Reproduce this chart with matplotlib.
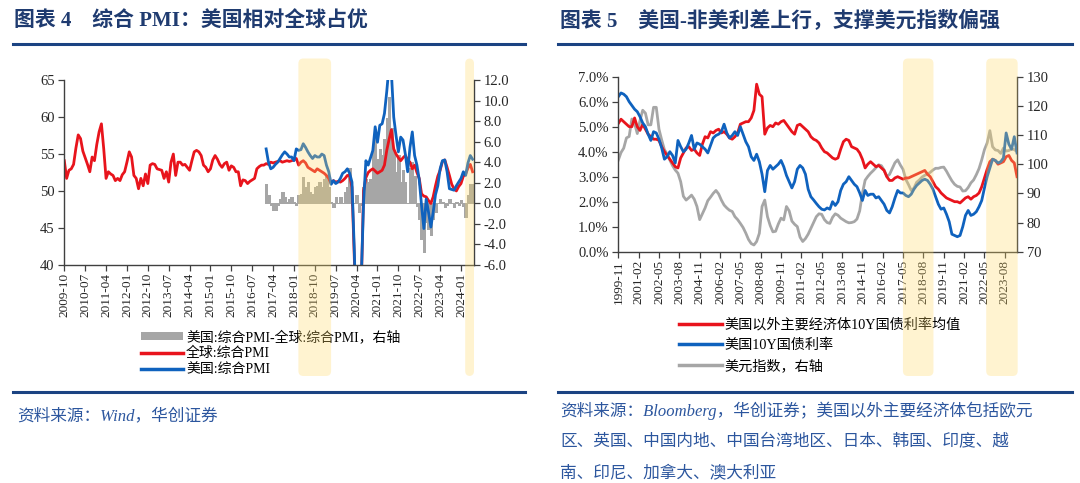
import numpy as np
import matplotlib
matplotlib.use("Agg")
import matplotlib.pyplot as plt
from matplotlib.patches import FancyBboxPatch, Patch
from matplotlib.lines import Line2D
from matplotlib.ticker import FuncFormatter

plt.rcParams['font.family'] = ['Liberation Serif', 'Noto Sans CJK SC', 'DejaVu Sans']
plt.rcParams['axes.unicode_minus'] = False

# ---------------- data: left chart (monthly, from 2009-10) ----------------
pmi_tick_labels = ["2009-10", "2010-07", "2011-04", "2012-01", "2012-10", "2013-07",
                   "2014-04", "2015-01", "2015-10", "2016-07", "2017-04", "2018-01",
                   "2018-10", "2019-07", "2020-04", "2021-01", "2021-10", "2022-07",
                   "2023-04", "2024-01"]
global_pmi = [54.1, 51.7, 52.8, 53.0, 53.6, 55.8, 57.6, 57.1, 55.4, 54.5,
              53.6, 52.6, 54.6, 54.1, 56.3, 58.0, 59.1, 55.7, 51.7, 52.6,
              52.3, 52.1, 51.4, 51.7, 51.4, 52.2, 52.6, 53.9, 55.3, 54.6,
              52.1, 51.7, 50.3, 51.7, 50.7, 52.3, 51.0, 53.5, 53.7, 53.6,
              53.0, 52.9, 52.8, 51.7, 52.6, 51.2, 53.9, 55.0, 52.1, 53.9,
              53.9, 53.5, 53.6, 53.2, 52.8, 54.1, 55.3, 55.5, 55.3, 54.8,
              53.5, 53.2, 52.6, 53.0, 54.2, 54.8, 54.3, 53.6, 53.2, 53.7,
              53.9, 52.8, 53.4, 53.2, 52.6, 52.6, 50.7, 51.5, 51.4, 51.0,
              51.3, 51.5, 51.7, 53.0, 53.3, 53.5, 53.5, 53.7, 53.6, 53.9,
              53.8, 53.9, 54.0, 54.1, 53.9, 54.0, 54.1, 54.0, 54.1, 54.2,
              54.4, 53.5, 53.9, 54.1, 53.8, 53.2, 53.0, 52.8, 52.6, 53.0,
              52.8, 52.6, 52.4, 52.1, 51.7, 51.0, 51.4, 51.2, 51.3, 51.2,
              51.4, 51.7, 52.1, 52.1, 50.5, 41.0, 30.0, 28.0, 37.0, 50.0,
              51.8, 52.5, 52.8, 53.0, 52.7, 52.4, 52.6, 52.8, 53.5, 55.5,
              57.0, 58.3, 55.7, 55.0, 54.5, 54.1, 54.5, 54.8, 54.2, 53.9,
              53.0, 53.5, 52.5, 51.7, 49.6, 49.3, 49.2, 48.7, 48.3, 49.2,
              50.7, 52.0, 52.8, 54.0, 54.2, 53.2, 52.1, 50.9, 50.3, 50.0,
              50.6, 51.0, 52.0, 52.3, 53.1, 53.6, 52.6]
us_start = 87  # first month index of the US series (2017-01)
us_pmi = [55.7, 53.9, 53.0, 53.2, 53.6, 53.9, 54.4, 54.9, 55.3, 55.0,
          54.6, 54.6, 54.1, 55.7, 55.5, 55.6, 56.4, 55.9, 55.3, 54.8,
          54.4, 54.8, 54.6, 54.6, 55.0, 54.8, 53.5, 52.6, 50.9, 51.4,
          51.0, 51.2, 51.7, 52.4, 52.6, 53.0, 52.4, 51.2, 42.0, 30.0,
          27.0, 38.0, 48.5, 54.1, 53.5, 54.5, 55.5, 58.7, 56.6, 58.9,
          59.1, 60.5, 63.5, 67.0, 66.0, 60.0, 57.5, 55.3, 57.3, 56.9,
          55.0, 52.6, 55.9, 58.0, 54.8, 53.5, 51.5, 48.0, 44.9, 48.9,
          47.1, 45.1, 47.1, 49.5, 50.7, 53.0, 54.1, 54.2, 52.6, 50.3,
          50.2, 50.1, 50.7, 51.2, 51.7, 52.6, 52.1, 53.8, 54.8, 54.3]
pmi_diff = [1.9, 0.8, -0.2, -0.7, -0.7, -0.2, 0.4, 1.1, 0.6, 0.1,
            0.4, 0.6, 0.1, -0.2, 0.8, 0.9, 2.6, 1.6, 2.1, 1.1,
            0.9, 1.6, 1.7, 2.1, 1.6, 2.4, 2.7, 1.6, 0.1, -0.4,
            0.6, 0.0, 0.6, 0.0, 1.1, 1.6, 3.4, -0.2, 0.0, 0.8,
            -0.9, -0.2, 1.6, 2.4, 2.1, 2.4, 5.3, 6.5, 4.3, 5.3,
            4.7, 6.3, 8.3, 10.4, 7.3, 5.0, 3.0, 4.7, 2.1, 3.2,
            2.1, 0.0, 3.4, 4.0, 2.7, -0.3, -1.5, -3.5, -4.8, -1.8,
            -2.5, -3.1, -1.5, -0.9, 0.0, 0.4, 0.1, -0.4, -0.2, 0.4,
            0.0, -0.4, 0.1, -0.2, 0.3, -0.3, -1.3, 0.8, 1.9, 1.9]
pmi_shades = [(100.9, 115.0), (172.8, 176.6)]

# ---------------- data: right chart (every 2 months, from 1999-11) ----------------
rate_tick_labels = ["1999-11", "2001-02", "2002-05", "2003-08", "2004-11", "2006-02",
                    "2007-05", "2008-08", "2009-11", "2011-02", "2012-05", "2013-08",
                    "2014-11", "2016-02", "2017-05", "2018-08", "2019-11", "2021-02",
                    "2022-05", "2023-08"]
nonus_10y = [5.13, 5.3, 5.2, 5.1, 5.0, 5.0, 5.35, 5.0, 4.85, 5.1,
             4.9, 4.7, 4.6, 4.5, 4.5, 4.45, 4.2, 4.0, 3.85, 3.7,
             3.55, 3.4, 3.35, 3.75, 3.95, 4.15, 4.2, 4.05, 4.1, 3.95,
             3.85, 4.3, 4.6, 4.55, 4.8, 4.75, 4.85, 4.9, 4.75, 4.8,
             4.7, 4.55, 4.5, 4.6, 4.75, 5.1, 5.15, 5.2, 5.2, 5.35,
             5.65, 6.7, 6.3, 6.2, 4.7, 4.95, 5.05, 5.0, 5.15, 5.1,
             5.2, 5.25, 5.1, 4.95, 4.8, 4.7, 5.05, 5.1, 5.0, 4.9,
             4.8, 4.6, 4.5, 4.45, 4.35, 4.15, 4.0, 3.95, 3.85, 3.75,
             3.7, 3.75, 4.1, 4.4, 4.5, 4.45, 4.2, 4.15, 4.1, 3.95,
             3.7, 3.35, 3.5, 3.6, 3.5, 3.4, 3.45, 3.35, 3.25, 3.0,
             2.85, 2.85, 2.95, 3.0, 2.95, 2.9, 2.95, 2.95, 3.0, 3.05,
             3.1, 3.15, 3.2, 3.25, 3.1, 3.0, 2.8, 2.6, 2.5, 2.35,
             2.25, 2.15, 2.1, 2.05, 2.0, 2.0, 1.95, 2.05, 2.15, 2.2,
             2.1, 2.2, 2.25, 2.35, 2.6, 2.95, 3.3, 3.6, 3.7, 3.65,
             3.5, 3.55, 3.6, 3.8, 3.85, 3.65, 3.55, 3.0]
us_10y = [6.2, 6.35, 6.3, 6.2, 6.0, 5.85, 5.7, 5.6, 5.4, 5.15,
          5.0, 4.7, 4.45, 4.8, 4.75, 4.5, 4.15, 3.7, 3.8, 4.0,
          3.85, 3.55, 4.45, 4.2, 4.0, 4.1, 4.35, 4.65, 4.1, 4.35,
          4.3, 4.2, 4.1, 3.95, 4.25, 4.55, 4.65, 4.7, 4.8, 5.1,
          4.75, 4.55, 4.65, 4.8, 4.65, 5.0, 4.7, 4.4, 4.2, 3.8,
          3.65, 3.9, 3.6, 3.1, 2.4, 3.25, 3.45, 3.3, 3.4, 3.5,
          3.65, 3.4, 3.05, 2.8, 2.55, 2.8, 3.3, 3.45, 3.35, 3.1,
          2.5, 2.2, 2.07, 1.93, 1.8, 1.7, 1.67, 1.75, 1.7, 2.0,
          1.85, 2.0, 2.45, 2.7, 2.8, 3.0, 2.85, 2.7, 2.6, 2.35,
          2.05, 2.45, 2.25, 2.3, 2.3, 2.15, 2.2, 2.05, 1.9, 1.65,
          1.55, 1.8, 2.15, 2.45, 2.35, 2.35, 2.25, 2.2, 2.3, 2.5,
          2.65, 2.75, 2.85, 2.9, 2.85, 2.7, 2.5, 2.2, 1.9, 1.7,
          1.75, 1.5, 1.2, 0.7, 0.65, 0.6, 0.65, 1.0, 1.45, 1.65,
          1.45, 1.5, 1.6, 1.8, 2.05, 2.55, 3.0, 3.35, 3.7, 3.65,
          3.55, 3.6, 3.75, 4.75, 4.3, 4.1, 4.6, 3.95]
dxy = [101.4, 104.0, 105.5, 109.0, 109.5, 115.5, 114.0, 110.5, 115.0, 118.5,
       117.5, 113.5, 113.5, 119.5, 119.5, 112.0, 108.3, 105.0, 103.5, 101.4,
       99.5, 98.0, 96.9, 94.0, 89.0, 87.7, 88.5, 89.4, 88.0, 85.5,
       81.0, 83.0, 85.0, 87.5, 88.7, 90.0, 91.0, 89.8, 87.7, 86.0,
       85.0, 84.2, 83.8, 82.0, 81.0, 79.7, 78.3, 76.4, 74.2, 72.8,
       72.3, 73.5, 76.3, 85.5, 87.7, 82.0, 79.0, 76.8, 77.0, 79.5,
       81.5, 80.9, 85.5, 84.0, 80.5, 79.4, 78.6, 75.0, 73.5, 74.5,
       76.0, 78.0, 80.0, 82.0, 83.0, 82.8, 81.0, 80.0, 79.7, 81.8,
       83.0, 82.5, 81.5, 80.9, 80.3, 79.9, 80.0, 80.3, 81.2, 84.0,
       90.0, 94.5, 95.8, 96.9, 97.8, 98.8, 99.8, 99.5, 98.0, 95.8,
       96.5, 98.5, 100.5, 101.5, 99.7, 98.2, 94.8, 93.0, 91.0, 91.8,
       93.8, 94.6, 95.6, 96.2, 96.6, 97.2, 98.0, 98.6, 98.6, 98.9,
       99.0, 97.6, 95.9, 94.3, 93.1, 92.4, 92.2, 90.8, 90.9, 92.0,
       93.6, 94.6, 96.4, 98.5, 101.5, 105.0, 107.3, 111.5, 106.0, 104.9,
       104.7, 103.7, 105.5, 104.5, 104.7, 105.2, 105.0, 104.3]
rate_shades = [(209.9, 232.4), (271.3, 294.5)]

# ---------------- styling ----------------
W, H = 1080, 483
DPI = 100
RED = '#E8141C'
BLUE = '#0F62BE'
GRAY = '#A6A6A6'
TITLE_C = '#1F3B70'
RULE_C = '#1B4382'
SRC_C = '#2C569E'
SPINE_C = '#404040'
SHADE_C = '#FFD966'

fig = plt.figure(figsize=(W / DPI, H / DPI), dpi=DPI)


def rect(l, t, r, b):
    return [l / W, 1 - b / H, (r - l) / W, (b - t) / H]


def style_axes(ax, axr):
    for a in (ax, axr):
        a.spines['top'].set_visible(False)
        for s in ('left', 'right', 'bottom'):
            a.spines[s].set_color(SPINE_C)
            a.spines[s].set_linewidth(1.0)
        a.tick_params(direction='out', length=4, width=0.9, color=SPINE_C,
                      labelsize=10.5, labelcolor='#262626', pad=3)
    axr.spines['left'].set_visible(False)
    axr.spines['bottom'].set_visible(False)
    ax.spines['right'].set_visible(False)
    ax.tick_params(axis='x', labelsize=9.5, labelrotation=90, pad=2)


# ---------------- left chart ----------------
axL = fig.add_axes(rect(64.3, 80.3, 474.0, 264.7))
axLr = axL.twinx()
axL.set_zorder(axLr.get_zorder() + 1)
axL.patch.set_visible(False)

m_glob = np.arange(len(global_pmi))
m_us = us_start + np.arange(len(us_pmi))
axLr.bar(m_us, pmi_diff, width=1.0, color=GRAY, edgecolor=GRAY, linewidth=0.6,
         antialiased=False)
axL.plot(m_glob, global_pmi, color=RED, lw=2.0, solid_joinstyle='round')
axL.plot(m_us, us_pmi, color=BLUE, lw=2.0, solid_joinstyle='round')

axL.set_xlim(0, 176.6)
axL.set_ylim(40, 65)
axL.set_yticks(np.arange(40, 66, 5))
axLr.set_ylim(-6, 12)
axLr.set_yticks(np.arange(-6, 12.1, 2))
axLr.yaxis.set_major_formatter(FuncFormatter(lambda v, p: f"{v:.1f}"))
axL.set_xticks(np.arange(len(pmi_tick_labels)) * 9)
axL.set_xticklabels(pmi_tick_labels)
style_axes(axL, axLr)

# ---------------- right chart ----------------
axR = fig.add_axes(rect(618.3, 76.7, 1017.0, 251.7))
axRr = axR.twinx()
axR.set_zorder(axRr.get_zorder() + 1)
axR.patch.set_visible(False)

m_rate = np.arange(len(us_10y)) * 2
axRr.plot(m_rate, dxy, color=GRAY, lw=2.0)
axR.plot(m_rate, nonus_10y, color=RED, lw=2.0)
axR.plot(m_rate, us_10y, color=BLUE, lw=2.0)

axR.set_xlim(0, 294)
axR.set_ylim(0, 7)
axR.set_yticks(np.arange(0, 7.1, 1))
axR.yaxis.set_major_formatter(FuncFormatter(lambda v, p: f"{v:.1f}%"))
axRr.set_ylim(70, 130)
axRr.set_yticks(np.arange(70, 131, 10))
axR.set_xticks(np.arange(len(rate_tick_labels)) * 15)
axR.set_xticklabels(rate_tick_labels)
style_axes(axR, axRr)

# ---------------- shaded periods (overlay with rounded corners) ----------------
top_px, bot_px = 58.5, 376.0
for ax, shades in ((axL, pmi_shades), (axR, rate_shades)):
    for x0, x1 in shades:
        px0 = ax.transData.transform((x0, 0))[0]
        px1 = ax.transData.transform((x1, 0))[0]
        p = FancyBboxPatch((px0 / DPI, (H - bot_px) / DPI), (px1 - px0) / DPI,
                           (bot_px - top_px) / DPI,
                           boxstyle='round,pad=0,rounding_size=0.05',
                           transform=fig.dpi_scale_trans, facecolor=SHADE_C,
                           edgecolor='none', alpha=0.3, zorder=20)
        fig.add_artist(p)

# ---------------- legends ----------------
hL = [Patch(facecolor=GRAY, edgecolor='none'),
      Line2D([], [], color=RED, lw=2.5),
      Line2D([], [], color=BLUE, lw=2.5)]
fig.legend(hL, ["美国:综合PMI-全球:综合PMI，右轴", "全球:综合PMI", "美国:综合PMI"],
           loc='upper left', bbox_to_anchor=(141 / W, 1 - 330 / H), frameon=False,
           fontsize=10, handlelength=3.0, handleheight=0.6, handletextpad=0.25,
           labelspacing=0.22, borderpad=0, borderaxespad=0)
hR = [Line2D([], [], color=RED, lw=2.5),
      Line2D([], [], color=BLUE, lw=2.5),
      Line2D([], [], color=GRAY, lw=2.5)]
fig.legend(hR, ["美国以外主要经济体10Y国债利率均值", "美国10Y国债利率", "美元指数，右轴"],
           loc='upper left', bbox_to_anchor=(679 / W, 1 - 318 / H), frameon=False,
           fontsize=10.2, handlelength=3.0, handletextpad=0.2,
           labelspacing=0.5, borderpad=0, borderaxespad=0)

# ---------------- titles, rules, sources ----------------
fig.text(14 / W, 1 - 22 / H, "图表 4　综合 PMI：美国相对全球占优", fontsize=15,
         fontweight='bold', color=TITLE_C, va='center', ha='left')
fig.text(560 / W, 1 - 22 / H, "图表 5　美国-非美利差上行，支撑美元指数偏强", fontsize=15,
         fontweight='bold', color=TITLE_C, va='center', ha='left')
for x0, x1 in ((13, 525), (558, 1072)):
    for y in (43.8, 392.4):
        fig.add_artist(Line2D([x0 / W, x1 / W], [1 - y / H, 1 - y / H],
                              color=RULE_C, lw=2.2, transform=fig.transFigure))

fig.text(17 / W, 1 - 416 / H, "资料来源：Wind，华创证券", fontsize=12, color=SRC_C,
         va='center', ha='left', fontstyle='italic')
src_lines = ["资料来源：Bloomberg，华创证券；美国以外主要经济体包括欧元",
             "区、英国、中国内地、中国台湾地区、日本、韩国、印度、越",
             "南、印尼、加拿大、澳大利亚"]
for i, s in enumerate(src_lines):
    fig.text(560 / W, 1 - (410.5 + 31.5 * i) / H, s, fontsize=12, color=SRC_C,
             va='center', ha='left', fontstyle='italic')

fig.savefig("out.png", dpi=DPI)
